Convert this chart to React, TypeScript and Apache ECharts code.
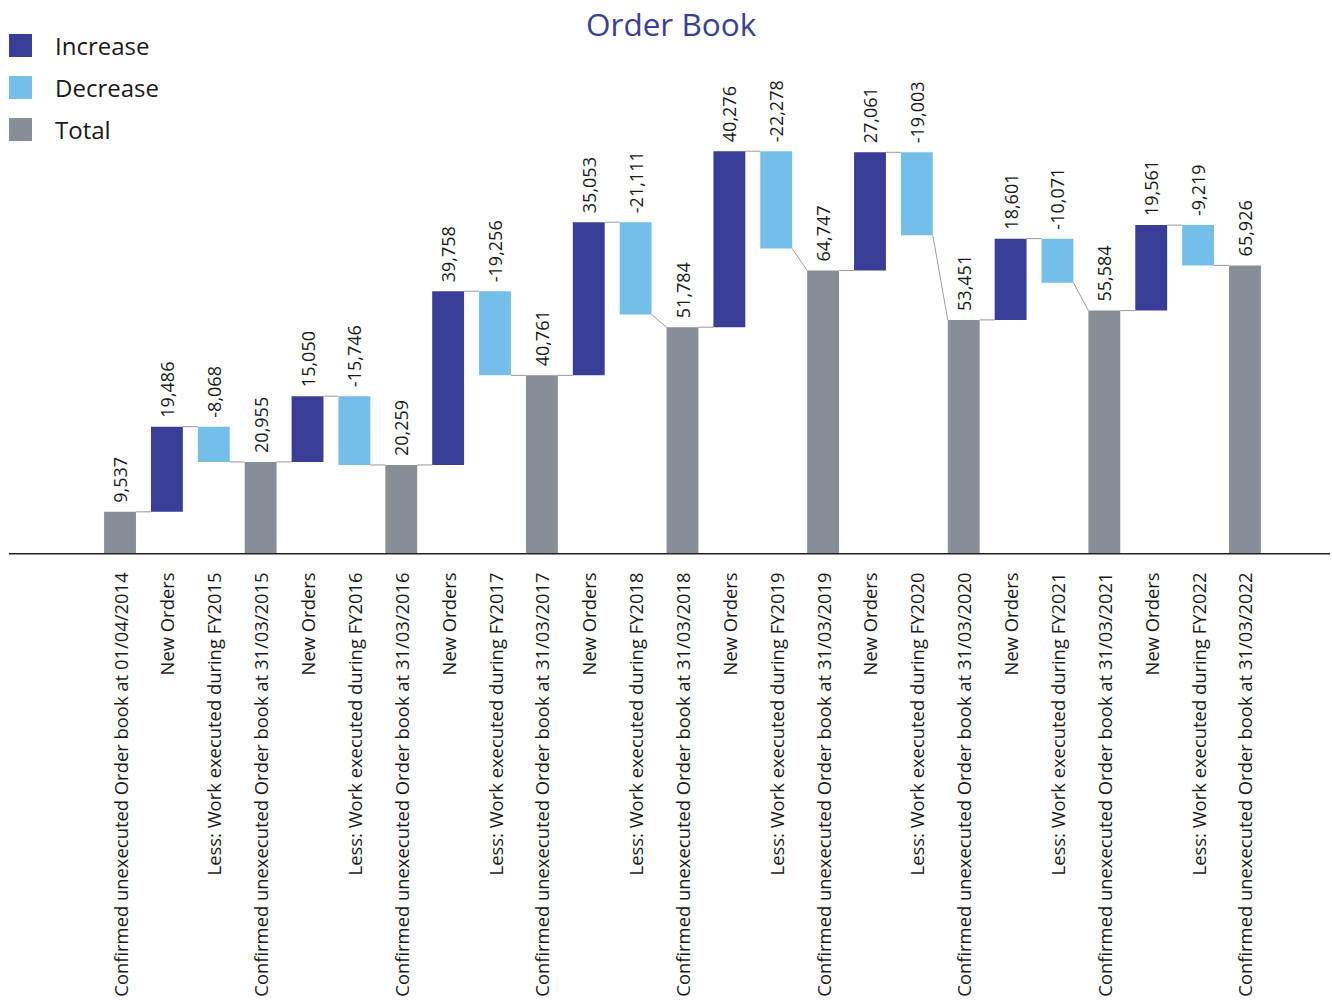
import React, { useEffect, useRef } from "react";
import * as echarts from "echarts";

const categories = [
  "Confirmed unexecuted Order book at 01/04/2014",
  "New Orders",
  "Less: Work executed during FY2015",
  "Confirmed unexecuted Order book at 31/03/2015",
  "New Orders",
  "Less: Work executed during FY2016",
  "Confirmed unexecuted Order book at 31/03/2016",
  "New Orders",
  "Less: Work executed during FY2017",
  "Confirmed unexecuted Order book at 31/03/2017",
  "New Orders",
  "Less: Work executed during FY2018",
  "Confirmed unexecuted Order book at 31/03/2018",
  "New Orders",
  "Less: Work executed during FY2019",
  "Confirmed unexecuted Order book at 31/03/2019",
  "New Orders",
  "Less: Work executed during FY2020",
  "Confirmed unexecuted Order book at 31/03/2020",
  "New Orders",
  "Less: Work executed during FY2021",
  "Confirmed unexecuted Order book at 31/03/2021",
  "New Orders",
  "Less: Work executed during FY2022",
  "Confirmed unexecuted Order book at 31/03/2022",
];

const values = [
  9537, 19486, -8068, 20955, 15050, -15746, 20259, 39758, -19256, 40761, 35053,
  -21111, 51784, 40276, -22278, 64747, 27061, -19003, 53451, 18601, -10071,
  55584, 19561, -9219, 65926,
];

const isTotal = categories.map((c) => c.startsWith("Confirmed"));

const COLORS = {
  inc: "#383D97",
  dec: "#74BFE9",
  total: "#878E96",
};
const FONT = "'Open Sans', 'Noto Sans', sans-serif";
const TEXT = "#1a1a1a";

function buildSeriesData() {
  let level = 0;
  const base: any[] = [];
  const inc: any[] = [];
  const dec: any[] = [];
  const tot: any[] = [];
  const starts: number[] = [];
  const ends: number[] = [];
  values.forEach((v, i) => {
    if (isTotal[i]) {
      base.push("-");
      inc.push("-");
      dec.push("-");
      tot.push(v);
      starts.push(v);
      ends.push(v);
      level = v;
    } else if (v >= 0) {
      base.push(level);
      inc.push(v);
      dec.push("-");
      tot.push("-");
      starts.push(level);
      ends.push(level + v);
      level = level + v;
    } else {
      base.push(level + v);
      inc.push("-");
      dec.push(-v);
      tot.push("-");
      starts.push(level);
      ends.push(level + v);
      level = level + v;
    }
  });
  const connectors: number[][] = [];
  for (let i = 0; i < values.length - 1; i++) {
    connectors.push([i, ends[i], starts[i + 1]]);
  }
  return { base, inc, dec, tot, connectors };
}

const fmt = (n: number) => n.toLocaleString("en-US");

export default function App() {
  const ref = useRef<HTMLDivElement>(null);
  useEffect(() => {
    if (!ref.current) return;
    const chart = echarts.init(ref.current, null, { renderer: "svg" });
    const { base, inc, dec, tot, connectors } = buildSeriesData();
    const BAR_FRAC = 0.68;
    const label = (neg: boolean) => ({
      show: true,
      position: "top",
      rotate: 90,
      align: "left",
      verticalAlign: "middle",
      distance: 9,
      fontSize: 18,
      fontFamily: FONT,
      color: TEXT,
      formatter: (p: any) => (neg ? "-" : "") + fmt(p.value),
    });
    chart.setOption({
      animation: false,
      backgroundColor: "#ffffff",
      title: {
        text: "Order Book",
        left: 581,
        top: 2,
        textStyle: {
          fontSize: 31.5,
          fontWeight: "normal",
          fontFamily: FONT,
          color: "#3A409A",
        },
      },
      legend: {
        orient: "vertical",
        left: 9,
        top: 33.5,
        padding: 0,
        icon: "rect",
        itemWidth: 23,
        itemHeight: 23,
        itemGap: 18,
        data: ["Increase", "Decrease", "Total"],
        textStyle: {
          fontSize: 24,
          fontFamily: FONT,
          color: TEXT,
          padding: [0, 0, 0, 18],
        },
      },
      grid: {
        left: 96.6,
        right: 63.6,
        top: 116.5,
        bottom: 448.5,
        containLabel: false,
        outerBoundsMode: "none",
      },
      xAxis: {
        type: "category",
        data: categories,
        axisLine: { show: false },
        axisTick: { show: false },
        axisLabel: {
          interval: 0,
          rotate: 90,
          margin: 19,
          fontSize: 18.4,
          fontFamily: FONT,
          color: TEXT,
        },
      },
      yAxis: {
        type: "value",
        min: 0,
        max: 100000,
        show: false,
        splitLine: { show: false },
      },
      graphic: [
        {
          type: "line",
          shape: { x1: 9, y1: 553.8, x2: 1330, y2: 553.8 },
          style: { stroke: "#222222", lineWidth: 1.5 },
          z: 100,
        },
      ],
      series: [
        {
          name: "base",
          type: "bar",
          stack: "wf",
          barWidth: BAR_FRAC * 100 + "%",
          itemStyle: { color: "transparent" },
          silent: true,
          data: base,
        },
        {
          name: "Increase",
          type: "bar",
          stack: "wf",
          itemStyle: { color: COLORS.inc },
          label: label(false),
          data: inc,
        },
        {
          name: "Decrease",
          type: "bar",
          stack: "wf",
          itemStyle: { color: COLORS.dec },
          label: label(true),
          data: dec,
        },
        {
          name: "Total",
          type: "bar",
          stack: "wf",
          itemStyle: { color: COLORS.total },
          label: label(false),
          data: tot,
        },
        {
          name: "connectors",
          type: "custom",
          silent: true,
          z: 1,
          encode: { x: 0, y: [1, 2] },
          data: connectors,
          renderItem: (params: any, api: any) => {
            const i = api.value(0);
            const y1 = api.value(1);
            const y2 = api.value(2);
            const half = (api.size([1, 0])[0] * BAR_FRAC) / 2;
            const p1 = api.coord([i, y1]);
            const p2 = api.coord([i + 1, y2]);
            return {
              type: "line",
              shape: { x1: p1[0] + half, y1: p1[1], x2: p2[0] - half, y2: p2[1] },
              style: { stroke: "#9a9a9a", lineWidth: 1 },
            };
          },
        },
      ],
    });
    return () => chart.dispose();
  }, []);
  return (
    <div
      ref={ref}
      style={{ position: "fixed", left: 0, top: 0, width: 1332, height: 1002 }}
    />
  );
}
